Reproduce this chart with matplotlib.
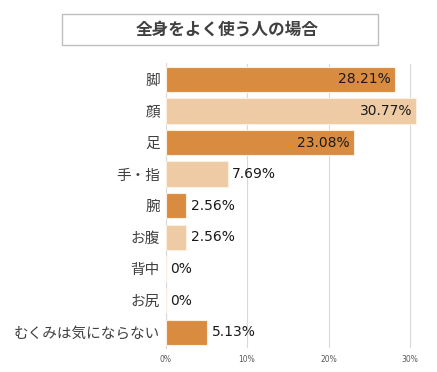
import matplotlib
matplotlib.use("Agg")
import matplotlib.pyplot as plt
from matplotlib.patches import Rectangle

plt.rcParams['font.family'] = ['Noto Sans CJK JP', 'DejaVu Sans']

title = "全身をよく使う人の場合"
categories = ["脚", "顔", "足", "手・指", "腕", "お腹", "背中", "お尻", "むくみは気にならない"]
values = [28.21, 30.77, 23.08, 7.69, 2.56, 2.56, 0, 0, 5.13]
value_labels = ["28.21%", "30.77%", "23.08%", "7.69%", "2.56%", "2.56%", "0%", "0%", "5.13%"]
xticks = [0, 10, 20, 30]
xtick_labels = ["0%", "10%", "20%", "30%"]

dark = "#D98B40"
light = "#EECBA5"
colors = [dark, light, dark, light, dark, light, dark, light, dark]

W, H = 437, 372
fig = plt.figure(figsize=(W / 100, H / 100), dpi=100)
ax = fig.add_axes([165.5 / W, 1 - 348 / H, (31 * 8.15) / W, (348 - 63.5) / H])

ypos = list(range(len(categories)))
ax.barh(ypos, values, height=0.8, color=colors, edgecolor="#FBEFE0", linewidth=0.8, zorder=3)
ax.set_ylim(len(categories) - 0.5, -0.5)
ax.set_xlim(0, 31)

ax.set_yticks(ypos)
ax.set_yticklabels(categories, fontsize=10.5, color="#404040")
ax.set_xticks(xticks)
ax.set_xticklabels(xtick_labels, fontsize=5.5, color="#595959", family=['DejaVu Sans'])
ax.tick_params(axis='both', length=0)
ax.tick_params(axis='y', pad=4)
ax.tick_params(axis='x', pad=5)

ax.grid(axis='x', color="#D9D9D9", linewidth=0.8, zorder=0)
for s in ['top', 'right', 'bottom']:
    ax.spines[s].set_visible(False)
ax.spines['left'].set_color("#D9D9D9")
ax.spines['left'].set_linewidth(0.8)

for i, (v, lab) in enumerate(zip(values, value_labels)):
    if v > 20:
        ax.annotate(lab, (v, i), xytext=(-3, 0), textcoords='offset points',
                    ha='right', va='center', fontsize=10, color="#1a1a1a",
                    family=['DejaVu Sans'], zorder=4)
    else:
        ax.annotate(lab, (v, i), xytext=(3, 0), textcoords='offset points',
                    ha='left', va='center', fontsize=10, color="#1a1a1a",
                    family=['DejaVu Sans'], zorder=4)

# title box
fig.patches.append(Rectangle((62 / W, 1 - 45 / H), (378 - 62) / W, 31 / H,
                             transform=fig.transFigure, facecolor='white',
                             edgecolor="#BFBFBF", linewidth=1.0))
fig.text(227 / W, 1 - 29.5 / H, title, ha='center', va='center', fontsize=12,
         fontweight='bold', color="#404040")

fig.savefig("out.png", dpi=100)
